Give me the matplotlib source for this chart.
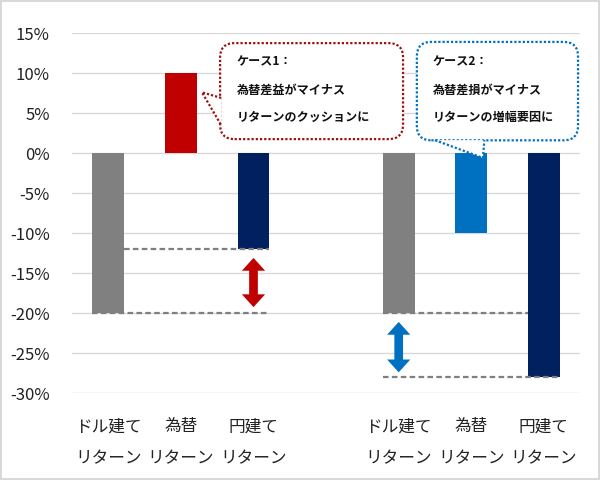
import matplotlib
matplotlib.use('Agg')
import matplotlib.pyplot as plt
from matplotlib.patches import FancyBboxPatch, Polygon
from matplotlib.ticker import FuncFormatter

plt.rcParams['font.family'] = ['Noto Sans CJK JP', 'DejaVu Sans']

# data
positions = [0, 1, 2, 4, 5, 6]
values = [-20, 10, -12, -20, -10, -28]
bar_colors = ['#808080', '#C00000', '#002060', '#808080', '#0070C0', '#002060']
tick_labels = ['ドル建て\nリターン', '為替\nリターン', '円建て\nリターン'] * 2
case1_text = ['ケース1：', '為替差益がマイナス', 'リターンのクッションに']
case2_text = ['ケース2：', '為替差損がマイナス', 'リターンの増幅要因に']
bar_w = 0.44

fig = plt.figure(figsize=(6, 4.8), dpi=100)
fig.patch.set_edgecolor('#d9d9d9')
fig.patch.set_linewidth(1.5)
ax = fig.add_axes([0.12, 0.181, 0.847, 0.75])

ax.bar(positions, values, width=bar_w, color=bar_colors, zorder=3)

ax.set_xlim(-0.5, 6.5)
ax.set_ylim(-30, 15)
ax.set_yticks(range(-30, 16, 5))
ax.yaxis.set_major_formatter(FuncFormatter(lambda v, p: f'{v:.0f}%'))
ax.grid(axis='y', color='#d9d9d9', lw=1, zorder=0)
ax.set_xticks(positions)
ax.set_xticklabels(tick_labels, linespacing=2.15)
for s in ax.spines.values():
    s.set_visible(False)
ax.tick_params(axis='both', length=0, labelsize=12, colors='#222222')
ax.tick_params(axis='x', pad=18)
ax.tick_params(axis='y', pad=16)

# reference dashed lines
h = bar_w / 2
dash = dict(color='#7f7f7f', lw=1.6, ls=(0, (2.5, 1.5)), zorder=4)
ax.plot([positions[0] + h, positions[2] + h], [values[2]] * 2, **dash)
ax.plot([positions[0] - h, positions[2] + h], [values[0]] * 2, **dash)
ax.plot([positions[3] - h, positions[5] - h], [values[3]] * 2, **dash)
ax.plot([positions[3] - h, positions[5] + h], [values[5]] * 2, **dash)


def double_arrow(x, top, bottom, color):
    sw, hw, hl = 0.06, 0.16, 1.6
    pts = [(x, top), (x + hw, top - hl), (x + sw, top - hl),
           (x + sw, bottom + hl), (x + hw, bottom + hl), (x, bottom),
           (x - hw, bottom + hl), (x - sw, bottom + hl), (x - sw, top - hl),
           (x - hw, top - hl)]
    ax.add_patch(Polygon(pts, closed=True, fc=color, ec='none', zorder=5))


double_arrow(positions[2], values[2] - 1.1, values[0] + 0.75, '#C00000')
double_arrow(positions[3], values[3] - 1.1, values[5] + 0.6, '#0070C0')

# callouts
aspect = 72.57 / 8


def callout(x0, x1, y0, y1, wedge, color, lines, tx):
    box = FancyBboxPatch((x0, y0), x1 - x0, y1 - y0,
                         boxstyle='round,pad=0,rounding_size=0.2', mutation_aspect=aspect,
                         fc='white', ec=color, lw=1.6, ls=(0, (1, 0.9)), zorder=6)
    ax.add_patch(box)
    ax.add_patch(Polygon(wedge, closed=True, fc='white', ec='none', zorder=7))
    a, tip, b = wedge
    ax.plot([a[0], tip[0], b[0]], [a[1], tip[1], b[1]], color=color, lw=1.6,
            ls=(0, (1, 0.9)), zorder=8)
    for ty, t in zip([11.4, 7.9, 4.5], lines):
        ax.text(tx, ty, t, fontsize=8.7, fontweight='bold', va='center', ha='left',
                color='#111111', zorder=9)


callout(1.54, 4.06, 1.75, 13.75, [(1.555, 6.9), (1.29, 7.6), (1.555, 3.5)],
        '#A01010', case1_text, 1.77)
callout(4.25, 6.47, 1.6, 13.9, [(4.5, 1.62), (5.16, -0.6), (5.18, 1.62)],
        '#0070C0', case2_text, 4.47)

fig.savefig('out.png', dpi=100)
